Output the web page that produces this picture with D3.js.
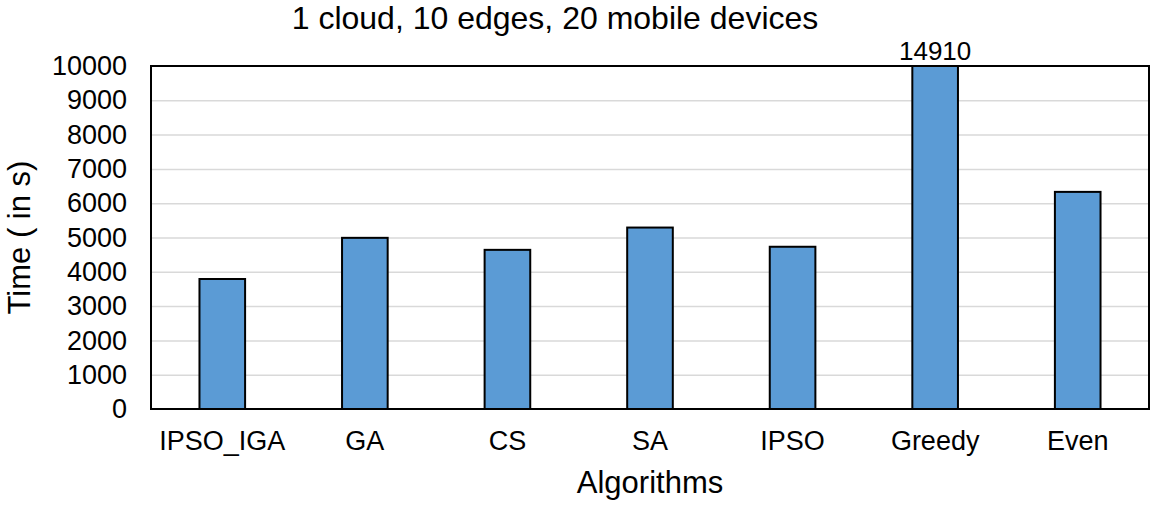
<!DOCTYPE html>
<html lang="en">
<head>
<meta charset="utf-8">
<title>1 cloud, 10 edges, 20 mobile devices</title>
<script src="https://d3js.org/d3.v7.min.js"></script>
<style>
  body { margin: 0; background: #fff; }
  svg { font-family: "Liberation Sans", Arial, sans-serif; }
  .grid line { stroke: #d9d9d9; stroke-width: 1.5px; }
  .grid .domain { display: none; }
  .axis .domain { display: none; }
  .axis line { display: none; }
</style>
</head>
<body>
<div id="chart"></div>
<script>
var algorithms = ["IPSO_IGA", "GA", "CS", "SA", "IPSO", "Greedy", "Even"];
var times = [3790, 4990, 4640, 5290, 4730, 14910, 6330];
var yTicks = [0, 1000, 2000, 3000, 4000, 5000, 6000, 7000, 8000, 9000, 10000];

var width = 1154, height = 505;
var m = {top: 66, right: 5, bottom: 96, left: 151};
var w = width - m.left - m.right,
    h = height - m.top - m.bottom;

var svg = d3.select("#chart").append("svg")
    .attr("width", width)
    .attr("height", height);

var g = svg.append("g")
    .attr("transform", "translate(" + m.left + "," + m.top + ")");

var x = d3.scaleBand()
    .domain(algorithms)
    .range([0, w])
    .paddingInner(0.68)
    .paddingOuter(0.34);

var y = d3.scaleLinear()
    .domain([0, 10000])
    .range([h, 0]);

// gridlines
g.append("g")
    .attr("class", "grid")
    .call(d3.axisLeft(y).tickValues(yTicks.slice(1, -1)).tickSize(-w).tickFormat(""));

// bars (clipped at 10000)
g.append("g").selectAll("rect")
    .data(algorithms)
    .enter().append("rect")
    .attr("x", function(d) { return x(d); })
    .attr("y", function(d, i) { return y(Math.min(times[i], 10000)); })
    .attr("width", x.bandwidth())
    .attr("height", function(d, i) { return h - y(Math.min(times[i], 10000)); })
    .attr("fill", "#5b9bd5")
    .attr("stroke", "#000")
    .attr("stroke-width", 2);

// frame
g.append("rect")
    .attr("width", w)
    .attr("height", h)
    .attr("fill", "none")
    .attr("stroke", "#000")
    .attr("stroke-width", 2);

// label for the clipped bar
g.selectAll(".over")
    .data(algorithms.filter(function(d, i) { return times[i] > 10000; }))
    .enter().append("text")
    .attr("class", "over")
    .attr("x", function(d) { return x(d) + x.bandwidth() / 2; })
    .attr("y", -6)
    .attr("text-anchor", "middle")
    .attr("font-size", 26)
    .text(function(d) { return times[algorithms.indexOf(d)]; });

// axes
g.append("g")
    .attr("class", "axis")
    .call(d3.axisLeft(y).tickValues(yTicks).tickSize(0).tickPadding(24).tickFormat(d3.format("d")))
    .selectAll("text")
    .attr("font-size", 27)
    .attr("fill", "#000");

g.append("g")
    .attr("class", "axis")
    .attr("transform", "translate(0," + h + ")")
    .call(d3.axisBottom(x).tickSize(0).tickPadding(22))
    .selectAll("text")
    .attr("font-size", 27)
    .attr("dy", null)
    .attr("y", 41)
    .attr("fill", "#000");

// titles
svg.append("text")
    .attr("x", 555)
    .attr("y", 29)
    .attr("text-anchor", "middle")
    .attr("font-size", 32)
    .text("1 cloud, 10 edges, 20 mobile devices");

svg.append("text")
    .attr("x", m.left + w / 2)
    .attr("y", 493)
    .attr("text-anchor", "middle")
    .attr("font-size", 31)
    .text("Algorithms");

svg.append("text")
    .attr("transform", "translate(30," + (m.top + h / 2) + ") rotate(-90)")
    .attr("text-anchor", "middle")
    .attr("font-size", 31)
    .text("Time ( in s)");
</script>
</body>
</html>
